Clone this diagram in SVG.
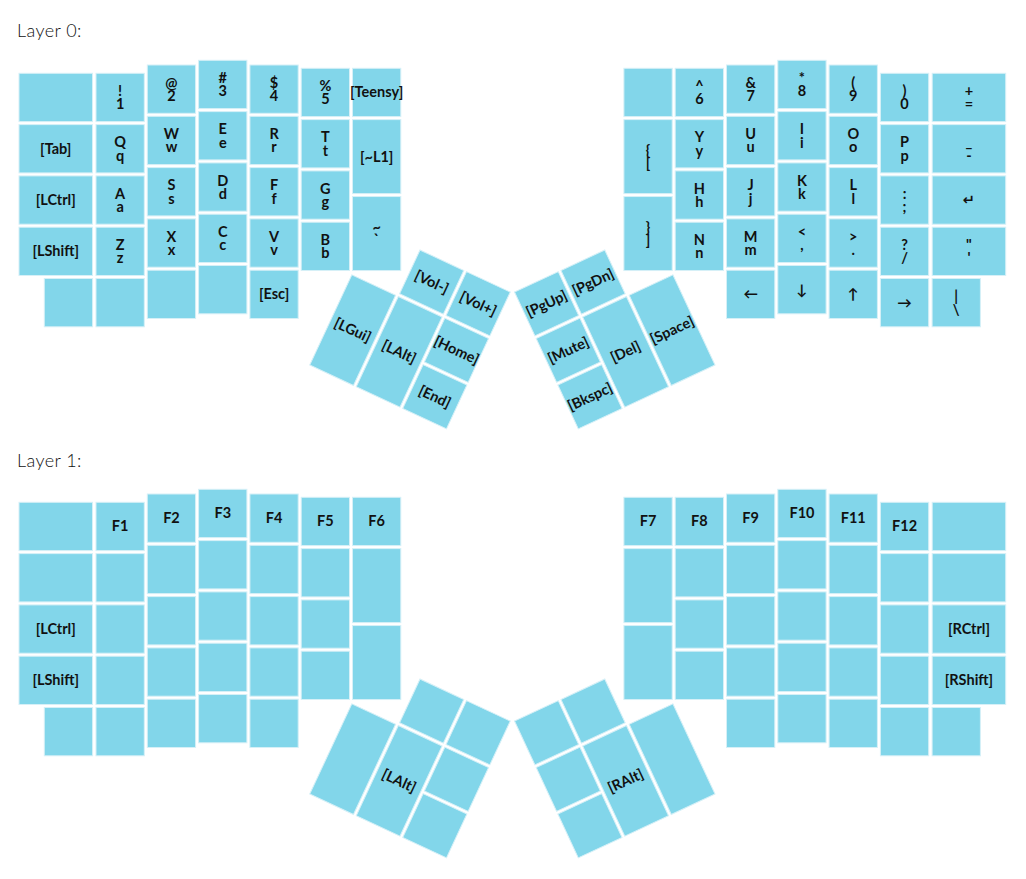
<svg xmlns="http://www.w3.org/2000/svg" width="1026" height="879" viewBox="0 0 1026 879">
<style>
.k{fill:#82d6ea;stroke:#d6f0f7;stroke-width:1}
.t{font-family:Lato,"DejaVu Sans",sans-serif;font-weight:bold;font-size:14.5px;fill:#111;text-anchor:middle}
.h{font-family:Lato,"Open Sans",sans-serif;font-weight:300;font-size:18px;letter-spacing:0.4px;fill:#111}
</style>
<rect width="1026" height="879" fill="#fff"/>
<text class="h" x="17" y="37">Layer 0:</text>
<text class="h" x="17" y="467">Layer 1:</text>

<g id="layer0">
<!-- left half -->
<g id="l0-c0r0"><rect class="k" x="19" y="73.3" width="73.5" height="48.3"/></g>
<g id="l0-tab"><rect class="k" x="19" y="124.6" width="73.5" height="48.3"/><text class="t" x="55.75" y="153.75">[Tab]</text></g>
<g id="l0-lctrl"><rect class="k" x="19" y="175.9" width="73.5" height="48.3"/><text class="t" x="55.75" y="205.05">[LCtrl]</text></g>
<g id="l0-lshift"><rect class="k" x="19" y="227.2" width="73.5" height="48.3"/><text class="t" x="55.75" y="256.35">[LShift]</text></g>
<g id="l0-c0r4"><rect class="k" x="44.3" y="278.5" width="48.3" height="48.3"/></g>

<g id="l0-1"><rect class="k" x="96" y="73.3" width="48.3" height="48.3"/><text class="t" x="120.15" y="96">!</text><text class="t" x="120.15" y="109.3">1</text></g>
<g id="l0-q"><rect class="k" x="96" y="124.6" width="48.3" height="48.3"/><text class="t" x="120.15" y="147.3">Q</text><text class="t" x="120.15" y="160.6">q</text></g>
<g id="l0-a"><rect class="k" x="96" y="175.9" width="48.3" height="48.3"/><text class="t" x="120.15" y="198.6">A</text><text class="t" x="120.15" y="211.9">a</text></g>
<g id="l0-z"><rect class="k" x="96" y="227.2" width="48.3" height="48.3"/><text class="t" x="120.15" y="249.9">Z</text><text class="t" x="120.15" y="263.2">z</text></g>
<g id="l0-c1r4"><rect class="k" x="96" y="278.5" width="48.3" height="48.3"/></g>

<g id="l0-2"><rect class="k" x="147.3" y="65" width="48.3" height="48.3"/><text class="t" x="171.45" y="87.7">@</text><text class="t" x="171.45" y="101">2</text></g>
<g id="l0-w"><rect class="k" x="147.3" y="116.3" width="48.3" height="48.3"/><text class="t" x="171.45" y="139">W</text><text class="t" x="171.45" y="152.3">w</text></g>
<g id="l0-s"><rect class="k" x="147.3" y="167.6" width="48.3" height="48.3"/><text class="t" x="171.45" y="190.3">S</text><text class="t" x="171.45" y="203.6">s</text></g>
<g id="l0-x"><rect class="k" x="147.3" y="218.9" width="48.3" height="48.3"/><text class="t" x="171.45" y="241.6">X</text><text class="t" x="171.45" y="254.9">x</text></g>
<g id="l0-c2r4"><rect class="k" x="147.3" y="270.2" width="48.3" height="48.3"/></g>

<g id="l0-3"><rect class="k" x="198.6" y="60.3" width="48.3" height="48.3"/><text class="t" x="222.75" y="83">#</text><text class="t" x="222.75" y="96.3">3</text></g>
<g id="l0-e"><rect class="k" x="198.6" y="111.6" width="48.3" height="48.3"/><text class="t" x="222.75" y="134.3">E</text><text class="t" x="222.75" y="147.6">e</text></g>
<g id="l0-d"><rect class="k" x="198.6" y="162.9" width="48.3" height="48.3"/><text class="t" x="222.75" y="185.6">D</text><text class="t" x="222.75" y="198.9">d</text></g>
<g id="l0-c"><rect class="k" x="198.6" y="214.2" width="48.3" height="48.3"/><text class="t" x="222.75" y="236.9">C</text><text class="t" x="222.75" y="250.2">c</text></g>
<g id="l0-c3r4"><rect class="k" x="198.6" y="265.5" width="48.3" height="48.3"/></g>

<g id="l0-4"><rect class="k" x="249.9" y="65" width="48.3" height="48.3"/><text class="t" x="274.05" y="87.7">$</text><text class="t" x="274.05" y="101">4</text></g>
<g id="l0-r"><rect class="k" x="249.9" y="116.3" width="48.3" height="48.3"/><text class="t" x="274.05" y="139">R</text><text class="t" x="274.05" y="152.3">r</text></g>
<g id="l0-f"><rect class="k" x="249.9" y="167.6" width="48.3" height="48.3"/><text class="t" x="274.05" y="190.3">F</text><text class="t" x="274.05" y="203.6">f</text></g>
<g id="l0-v"><rect class="k" x="249.9" y="218.9" width="48.3" height="48.3"/><text class="t" x="274.05" y="241.6">V</text><text class="t" x="274.05" y="254.9">v</text></g>
<g id="l0-esc"><rect class="k" x="249.9" y="270.2" width="48.3" height="48.3"/><text class="t" x="274.05" y="299.35">[Esc]</text></g>

<g id="l0-5"><rect class="k" x="301.2" y="68.3" width="48.3" height="48.3"/><text class="t" x="325.35" y="91">%</text><text class="t" x="325.35" y="104.3">5</text></g>
<g id="l0-t"><rect class="k" x="301.2" y="119.6" width="48.3" height="48.3"/><text class="t" x="325.35" y="142.3">T</text><text class="t" x="325.35" y="155.6">t</text></g>
<g id="l0-g"><rect class="k" x="301.2" y="170.9" width="48.3" height="48.3"/><text class="t" x="325.35" y="193.6">G</text><text class="t" x="325.35" y="206.9">g</text></g>
<g id="l0-b"><rect class="k" x="301.2" y="222.2" width="48.3" height="48.3"/><text class="t" x="325.35" y="244.9">B</text><text class="t" x="325.35" y="258.2">b</text></g>

<g id="l0-teensy"><rect class="k" x="352.5" y="68.3" width="48.3" height="48.3"/><text class="t" x="376.65" y="97.45">[Teensy]</text></g>
<g id="l0-l1"><rect class="k" x="352.5" y="119.6" width="48.3" height="74"/><text class="t" x="376.65" y="161.6">[~L1]</text></g>
<g id="l0-grave"><rect class="k" x="352.5" y="196.55" width="48.3" height="74"/><text class="t" x="376.65" y="232">~</text><text class="t" x="376.65" y="245.3">`</text></g>

<!-- left thumb -->
<g transform="translate(373.5,228.3) rotate(25)">
<g id="l0-volm"><rect class="k" x="51.3" y="0" width="48.3" height="48.3"/><text class="t" x="75.45" y="29.15">[Vol-]</text></g>
<g id="l0-volp"><rect class="k" x="102.6" y="0" width="48.3" height="48.3"/><text class="t" x="126.75" y="29.15">[Vol+]</text></g>
<g id="l0-lgui"><rect class="k" x="0" y="51.3" width="48.3" height="99.6"/><text class="t" x="24.15" y="106.1">[LGui]</text></g>
<g id="l0-lalt"><rect class="k" x="51.3" y="51.3" width="48.3" height="99.6"/><text class="t" x="75.45" y="106.1">[LAlt]</text></g>
<g id="l0-home"><rect class="k" x="102.6" y="51.3" width="48.3" height="48.3"/><text class="t" x="126.75" y="80.45">[Home]</text></g>
<g id="l0-end"><rect class="k" x="102.6" y="102.6" width="48.3" height="48.3"/><text class="t" x="126.75" y="131.75">[End]</text></g>
</g>

<!-- right thumb -->
<g transform="translate(514.5,292.1) rotate(-25)">
<g id="l0-pgup"><rect class="k" x="0" y="0" width="48.3" height="48.3"/><text class="t" x="24.15" y="29.15">[PgUp]</text></g>
<g id="l0-pgdn"><rect class="k" x="51.3" y="0" width="48.3" height="48.3"/><text class="t" x="75.45" y="29.15">[PgDn]</text></g>
<g id="l0-mute"><rect class="k" x="0" y="51.3" width="48.3" height="48.3"/><text class="t" x="24.15" y="80.45">[Mute]</text></g>
<g id="l0-bkspc"><rect class="k" x="0" y="102.6" width="48.3" height="48.3"/><text class="t" x="24.15" y="131.75">[Bkspc]</text></g>
<g id="l0-del"><rect class="k" x="51.3" y="51.3" width="48.3" height="99.6"/><text class="t" x="75.45" y="106.1">[Del]</text></g>
<g id="l0-space"><rect class="k" x="102.6" y="51.3" width="48.3" height="99.6"/><text class="t" x="126.75" y="106.1">[Space]</text></g>
</g>

<!-- right half -->
<g id="l0-cAr0"><rect class="k" x="623.9" y="68.3" width="48.3" height="48.3"/></g>
<g id="l0-lbrace"><rect class="k" x="623.9" y="119.6" width="48.3" height="74"/><text class="t" x="648.05" y="155.1">{</text><text class="t" x="648.05" y="168.4">[</text></g>
<g id="l0-rbrace"><rect class="k" x="623.9" y="196.55" width="48.3" height="74"/><text class="t" x="648.05" y="232">}</text><text class="t" x="648.05" y="245.3">]</text></g>

<g id="l0-6"><rect class="k" x="675.2" y="68.3" width="48.3" height="48.3"/><text class="t" x="699.35" y="91">^</text><text class="t" x="699.35" y="104.3">6</text></g>
<g id="l0-y"><rect class="k" x="675.2" y="119.6" width="48.3" height="48.3"/><text class="t" x="699.35" y="142.3">Y</text><text class="t" x="699.35" y="155.6">y</text></g>
<g id="l0-h"><rect class="k" x="675.2" y="170.9" width="48.3" height="48.3"/><text class="t" x="699.35" y="193.6">H</text><text class="t" x="699.35" y="206.9">h</text></g>
<g id="l0-n"><rect class="k" x="675.2" y="222.2" width="48.3" height="48.3"/><text class="t" x="699.35" y="244.9">N</text><text class="t" x="699.35" y="258.2">n</text></g>

<g id="l0-7"><rect class="k" x="726.5" y="65" width="48.3" height="48.3"/><text class="t" x="750.65" y="87.7">&amp;</text><text class="t" x="750.65" y="101">7</text></g>
<g id="l0-u"><rect class="k" x="726.5" y="116.3" width="48.3" height="48.3"/><text class="t" x="750.65" y="139">U</text><text class="t" x="750.65" y="152.3">u</text></g>
<g id="l0-j"><rect class="k" x="726.5" y="167.6" width="48.3" height="48.3"/><text class="t" x="750.65" y="190.3">J</text><text class="t" x="750.65" y="203.6">j</text></g>
<g id="l0-m"><rect class="k" x="726.5" y="218.9" width="48.3" height="48.3"/><text class="t" x="750.65" y="241.6">M</text><text class="t" x="750.65" y="254.9">m</text></g>
<g id="l0-left"><rect class="k" x="726.5" y="270.2" width="48.3" height="48.3"/><text class="t" x="750.65" y="299.35">←</text></g>

<g id="l0-8"><rect class="k" x="777.8" y="60.3" width="48.3" height="48.3"/><text class="t" x="801.95" y="83">*</text><text class="t" x="801.95" y="96.3">8</text></g>
<g id="l0-i"><rect class="k" x="777.8" y="111.6" width="48.3" height="48.3"/><text class="t" x="801.95" y="134.3">I</text><text class="t" x="801.95" y="147.6">i</text></g>
<g id="l0-k"><rect class="k" x="777.8" y="162.9" width="48.3" height="48.3"/><text class="t" x="801.95" y="185.6">K</text><text class="t" x="801.95" y="198.9">k</text></g>
<g id="l0-comma"><rect class="k" x="777.8" y="214.2" width="48.3" height="48.3"/><text class="t" x="801.95" y="236.9">&lt;</text><text class="t" x="801.95" y="250.2">,</text></g>
<g id="l0-down"><rect class="k" x="777.8" y="265.5" width="48.3" height="48.3"/><text class="t" x="801.95" y="294.65">↓</text></g>

<g id="l0-9"><rect class="k" x="829.1" y="65" width="48.3" height="48.3"/><text class="t" x="853.25" y="87.7">(</text><text class="t" x="853.25" y="101">9</text></g>
<g id="l0-o"><rect class="k" x="829.1" y="116.3" width="48.3" height="48.3"/><text class="t" x="853.25" y="139">O</text><text class="t" x="853.25" y="152.3">o</text></g>
<g id="l0-l"><rect class="k" x="829.1" y="167.6" width="48.3" height="48.3"/><text class="t" x="853.25" y="190.3">L</text><text class="t" x="853.25" y="203.6">l</text></g>
<g id="l0-period"><rect class="k" x="829.1" y="218.9" width="48.3" height="48.3"/><text class="t" x="853.25" y="241.6">&gt;</text><text class="t" x="853.25" y="254.9">.</text></g>
<g id="l0-up"><rect class="k" x="829.1" y="270.2" width="48.3" height="48.3"/><text class="t" x="853.25" y="299.35">↑</text></g>

<g id="l0-0"><rect class="k" x="880.4" y="73.3" width="48.3" height="48.3"/><text class="t" x="904.55" y="96">)</text><text class="t" x="904.55" y="109.3">0</text></g>
<g id="l0-p"><rect class="k" x="880.4" y="124.6" width="48.3" height="48.3"/><text class="t" x="904.55" y="147.3">P</text><text class="t" x="904.55" y="160.6">p</text></g>
<g id="l0-semi"><rect class="k" x="880.4" y="175.9" width="48.3" height="48.3"/><text class="t" x="904.55" y="198.6">:</text><text class="t" x="904.55" y="211.9">;</text></g>
<g id="l0-slash"><rect class="k" x="880.4" y="227.2" width="48.3" height="48.3"/><text class="t" x="904.55" y="249.9">?</text><text class="t" x="904.55" y="263.2">/</text></g>
<g id="l0-right"><rect class="k" x="880.4" y="278.5" width="48.3" height="48.3"/><text class="t" x="904.55" y="307.65">→</text></g>

<g id="l0-eq"><rect class="k" x="932.2" y="73.3" width="73.5" height="48.3"/><text class="t" x="968.95" y="96">+</text><text class="t" x="968.95" y="109.3">=</text></g>
<g id="l0-minus"><rect class="k" x="932.2" y="124.6" width="73.5" height="48.3"/><text class="t" x="968.95" y="147.3">_</text><text class="t" x="968.95" y="160.6">-</text></g>
<g id="l0-enter"><rect class="k" x="932.2" y="175.9" width="73.5" height="48.3"/><text class="t" x="968.95" y="205.05">↵</text></g>
<g id="l0-quote"><rect class="k" x="932.2" y="227.2" width="73.5" height="48.3"/><text class="t" x="968.95" y="249.9">"</text><text class="t" x="968.95" y="263.2">'</text></g>
<g id="l0-bslash"><rect class="k" x="932.1" y="278.5" width="48.3" height="48.3"/><text class="t" x="956.25" y="301.2">|</text><text class="t" x="956.25" y="314.5">\</text></g>
</g>

<g id="layer1" transform="translate(0,429)">
<g id="l1-c0r0"><rect class="k" x="19" y="73.3" width="73.5" height="48.3"/></g>
<g id="l1-c0r1"><rect class="k" x="19" y="124.6" width="73.5" height="48.3"/></g>
<g id="l1-lctrl"><rect class="k" x="19" y="175.9" width="73.5" height="48.3"/><text class="t" x="55.75" y="205.05">[LCtrl]</text></g>
<g id="l1-lshift"><rect class="k" x="19" y="227.2" width="73.5" height="48.3"/><text class="t" x="55.75" y="256.35">[LShift]</text></g>
<g id="l1-c0r4"><rect class="k" x="44.3" y="278.5" width="48.3" height="48.3"/></g>

<g id="l1-f1"><rect class="k" x="96" y="73.3" width="48.3" height="48.3"/><text class="t" x="120.15" y="102.45">F1</text></g>
<g id="l1-c1r1"><rect class="k" x="96" y="124.6" width="48.3" height="48.3"/></g>
<g id="l1-c1r2"><rect class="k" x="96" y="175.9" width="48.3" height="48.3"/></g>
<g id="l1-c1r3"><rect class="k" x="96" y="227.2" width="48.3" height="48.3"/></g>
<g id="l1-c1r4"><rect class="k" x="96" y="278.5" width="48.3" height="48.3"/></g>

<g id="l1-f2"><rect class="k" x="147.3" y="65" width="48.3" height="48.3"/><text class="t" x="171.45" y="94.15">F2</text></g>
<g id="l1-c2r1"><rect class="k" x="147.3" y="116.3" width="48.3" height="48.3"/></g>
<g id="l1-c2r2"><rect class="k" x="147.3" y="167.6" width="48.3" height="48.3"/></g>
<g id="l1-c2r3"><rect class="k" x="147.3" y="218.9" width="48.3" height="48.3"/></g>
<g id="l1-c2r4"><rect class="k" x="147.3" y="270.2" width="48.3" height="48.3"/></g>

<g id="l1-f3"><rect class="k" x="198.6" y="60.3" width="48.3" height="48.3"/><text class="t" x="222.75" y="89.45">F3</text></g>
<g id="l1-c3r1"><rect class="k" x="198.6" y="111.6" width="48.3" height="48.3"/></g>
<g id="l1-c3r2"><rect class="k" x="198.6" y="162.9" width="48.3" height="48.3"/></g>
<g id="l1-c3r3"><rect class="k" x="198.6" y="214.2" width="48.3" height="48.3"/></g>
<g id="l1-c3r4"><rect class="k" x="198.6" y="265.5" width="48.3" height="48.3"/></g>

<g id="l1-f4"><rect class="k" x="249.9" y="65" width="48.3" height="48.3"/><text class="t" x="274.05" y="94.15">F4</text></g>
<g id="l1-c4r1"><rect class="k" x="249.9" y="116.3" width="48.3" height="48.3"/></g>
<g id="l1-c4r2"><rect class="k" x="249.9" y="167.6" width="48.3" height="48.3"/></g>
<g id="l1-c4r3"><rect class="k" x="249.9" y="218.9" width="48.3" height="48.3"/></g>
<g id="l1-c4r4"><rect class="k" x="249.9" y="270.2" width="48.3" height="48.3"/></g>

<g id="l1-f5"><rect class="k" x="301.2" y="68.3" width="48.3" height="48.3"/><text class="t" x="325.35" y="97.45">F5</text></g>
<g id="l1-c5r1"><rect class="k" x="301.2" y="119.6" width="48.3" height="48.3"/></g>
<g id="l1-c5r2"><rect class="k" x="301.2" y="170.9" width="48.3" height="48.3"/></g>
<g id="l1-c5r3"><rect class="k" x="301.2" y="222.2" width="48.3" height="48.3"/></g>

<g id="l1-f6"><rect class="k" x="352.5" y="68.3" width="48.3" height="48.3"/><text class="t" x="376.65" y="97.45">F6</text></g>
<g id="l1-c6r1"><rect class="k" x="352.5" y="119.6" width="48.3" height="74"/></g>
<g id="l1-c6r2"><rect class="k" x="352.5" y="196.55" width="48.3" height="74"/></g>

<g transform="translate(373.5,228.3) rotate(25)">
<g id="l1-lt1"><rect class="k" x="51.3" y="0" width="48.3" height="48.3"/></g>
<g id="l1-lt2"><rect class="k" x="102.6" y="0" width="48.3" height="48.3"/></g>
<g id="l1-lt3"><rect class="k" x="0" y="51.3" width="48.3" height="99.6"/></g>
<g id="l1-lalt"><rect class="k" x="51.3" y="51.3" width="48.3" height="99.6"/><text class="t" x="75.45" y="106.1">[LAlt]</text></g>
<g id="l1-lt5"><rect class="k" x="102.6" y="51.3" width="48.3" height="48.3"/></g>
<g id="l1-lt6"><rect class="k" x="102.6" y="102.6" width="48.3" height="48.3"/></g>
</g>

<g transform="translate(514.5,292.1) rotate(-25)">
<g id="l1-rt1"><rect class="k" x="0" y="0" width="48.3" height="48.3"/></g>
<g id="l1-rt2"><rect class="k" x="51.3" y="0" width="48.3" height="48.3"/></g>
<g id="l1-rt3"><rect class="k" x="0" y="51.3" width="48.3" height="48.3"/></g>
<g id="l1-rt4"><rect class="k" x="0" y="102.6" width="48.3" height="48.3"/></g>
<g id="l1-ralt"><rect class="k" x="51.3" y="51.3" width="48.3" height="99.6"/><text class="t" x="75.45" y="106.1">[RAlt]</text></g>
<g id="l1-rt6"><rect class="k" x="102.6" y="51.3" width="48.3" height="99.6"/></g>
</g>

<g id="l1-f7"><rect class="k" x="623.9" y="68.3" width="48.3" height="48.3"/><text class="t" x="648.05" y="97.45">F7</text></g>
<g id="l1-cAr1"><rect class="k" x="623.9" y="119.6" width="48.3" height="74"/></g>
<g id="l1-cAr2"><rect class="k" x="623.9" y="196.55" width="48.3" height="74"/></g>

<g id="l1-f8"><rect class="k" x="675.2" y="68.3" width="48.3" height="48.3"/><text class="t" x="699.35" y="97.45">F8</text></g>
<g id="l1-cBr1"><rect class="k" x="675.2" y="119.6" width="48.3" height="48.3"/></g>
<g id="l1-cBr2"><rect class="k" x="675.2" y="170.9" width="48.3" height="48.3"/></g>
<g id="l1-cBr3"><rect class="k" x="675.2" y="222.2" width="48.3" height="48.3"/></g>

<g id="l1-f9"><rect class="k" x="726.5" y="65" width="48.3" height="48.3"/><text class="t" x="750.65" y="94.15">F9</text></g>
<g id="l1-cCr1"><rect class="k" x="726.5" y="116.3" width="48.3" height="48.3"/></g>
<g id="l1-cCr2"><rect class="k" x="726.5" y="167.6" width="48.3" height="48.3"/></g>
<g id="l1-cCr3"><rect class="k" x="726.5" y="218.9" width="48.3" height="48.3"/></g>
<g id="l1-cCr4"><rect class="k" x="726.5" y="270.2" width="48.3" height="48.3"/></g>

<g id="l1-f10"><rect class="k" x="777.8" y="60.3" width="48.3" height="48.3"/><text class="t" x="801.95" y="89.45">F10</text></g>
<g id="l1-cDr1"><rect class="k" x="777.8" y="111.6" width="48.3" height="48.3"/></g>
<g id="l1-cDr2"><rect class="k" x="777.8" y="162.9" width="48.3" height="48.3"/></g>
<g id="l1-cDr3"><rect class="k" x="777.8" y="214.2" width="48.3" height="48.3"/></g>
<g id="l1-cDr4"><rect class="k" x="777.8" y="265.5" width="48.3" height="48.3"/></g>

<g id="l1-f11"><rect class="k" x="829.1" y="65" width="48.3" height="48.3"/><text class="t" x="853.25" y="94.15">F11</text></g>
<g id="l1-cEr1"><rect class="k" x="829.1" y="116.3" width="48.3" height="48.3"/></g>
<g id="l1-cEr2"><rect class="k" x="829.1" y="167.6" width="48.3" height="48.3"/></g>
<g id="l1-cEr3"><rect class="k" x="829.1" y="218.9" width="48.3" height="48.3"/></g>
<g id="l1-cEr4"><rect class="k" x="829.1" y="270.2" width="48.3" height="48.3"/></g>

<g id="l1-f12"><rect class="k" x="880.4" y="73.3" width="48.3" height="48.3"/><text class="t" x="904.55" y="102.45">F12</text></g>
<g id="l1-cFr1"><rect class="k" x="880.4" y="124.6" width="48.3" height="48.3"/></g>
<g id="l1-cFr2"><rect class="k" x="880.4" y="175.9" width="48.3" height="48.3"/></g>
<g id="l1-cFr3"><rect class="k" x="880.4" y="227.2" width="48.3" height="48.3"/></g>
<g id="l1-cFr4"><rect class="k" x="880.4" y="278.5" width="48.3" height="48.3"/></g>

<g id="l1-cGr0"><rect class="k" x="932.2" y="73.3" width="73.5" height="48.3"/></g>
<g id="l1-cGr1"><rect class="k" x="932.2" y="124.6" width="73.5" height="48.3"/></g>
<g id="l1-rctrl"><rect class="k" x="932.2" y="175.9" width="73.5" height="48.3"/><text class="t" x="968.95" y="205.05">[RCtrl]</text></g>
<g id="l1-rshift"><rect class="k" x="932.2" y="227.2" width="73.5" height="48.3"/><text class="t" x="968.95" y="256.35">[RShift]</text></g>
<g id="l1-cGr4"><rect class="k" x="932.1" y="278.5" width="48.3" height="48.3"/></g>
</g>
</svg>
